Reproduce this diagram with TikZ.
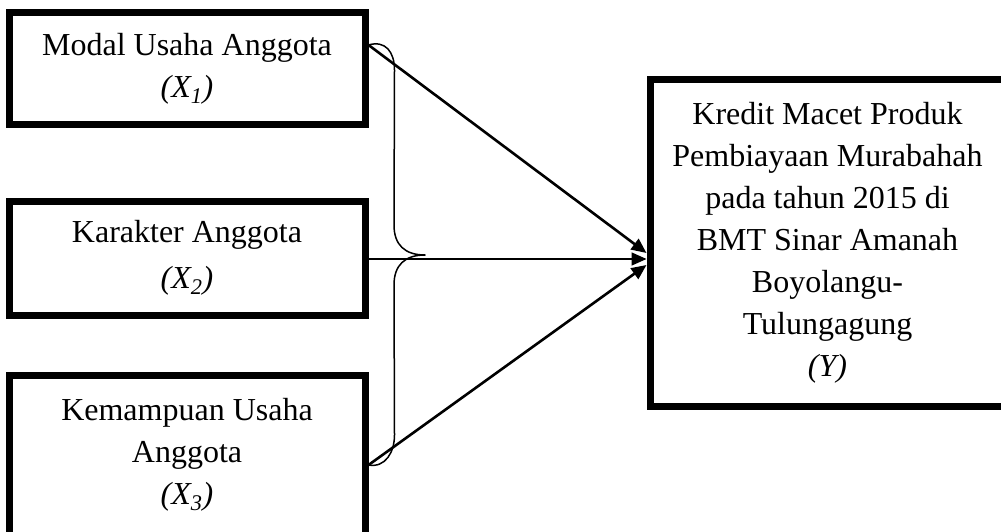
\documentclass[tikz,border=0pt]{standalone}
\usepackage{fontspec}
\setmainfont{Liberation Serif}
\usetikzlibrary{calc,arrows.meta}
\tikzset{
  varbox/.style={draw=black, line width=7pt, rectangle, align=center,
    inner sep=0pt, font=\fontsize{32}{42}\selectfont},
  link/.style={line width=2.6pt, -{Triangle[length=15pt,width=13pt]}},
  thinlink/.style={line width=1.6pt, -{Triangle[length=15pt,width=13pt]}},
  bracestyle/.style={line width=1.5pt, line join=round},
}
\begin{document}
\begin{tikzpicture}[x=1pt,y=-1pt]
\useasboundingbox (0,0) rectangle (1001,532);
\fill[white] (0,0) rectangle (1001,532);
\clip (0,0) rectangle (1001,532);

\node[varbox, minimum width=356pt, minimum height=112pt] (b1) at (187,68.5)
  {Modal Usaha Anggota\\\textit{(X\textsubscript{1})}};
\node[varbox, minimum width=356pt, minimum height=114pt] (b2) at (187,258)
  {Karakter Anggota\\[4pt]\textit{(X\textsubscript{2})}};
\node[varbox, minimum width=356pt, minimum height=160pt] (b3) at (187,455)
  {Kemampuan Usaha\\Anggota\\\textit{(X\textsubscript{3})}};
\node[varbox, minimum width=355pt, minimum height=326pt] (y) at (827.5,243)
  {Kredit Macet Produk\\Pembiayaan Murabahah\\pada tahun 2015 di\\BMT Sinar Amanah\\Boyolangu-\\Tulungagung\\\textit{(Y)}};

\coordinate (s1) at ($(b1.east)+(0,-23.5)$);
\coordinate (s2) at ($(b2.east)+(0,1)$);
\coordinate (s3) at ($(b3.east)+(0,10)$);
\coordinate (t1) at ($(y.west)+(0,10)$);
\coordinate (t2) at ($(y.west)+(0,16)$);
\coordinate (t3) at ($(y.west)+(0,22)$);

\draw[bracestyle] (s1) .. controls ($(s1)+(17,-5)$) and ($(s1)+(26,7)$) .. ($(s1)+(26,25)$)
  -- (394,225) .. controls (394,245) and (405,255) .. (425,255)
  .. controls (405,255) and (394,265) .. (394,285)
  -- ($(s3)+(26,-30)$) .. controls ($(s3)+(26,-13)$) and ($(s3)+(17,3)$) .. (s3);

\draw[link] (s1) -- (t1);
\draw[thinlink] (s2) -- (t2);
\draw[link] (s3) -- (t3);
\end{tikzpicture}
\end{document}
